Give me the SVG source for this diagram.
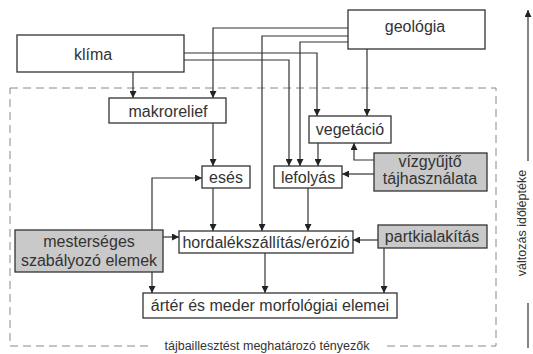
<svg xmlns="http://www.w3.org/2000/svg" width="533" height="354" viewBox="0 0 533 354">
<defs>
<style>
.box{fill:#fff;stroke:#333;stroke-width:1.3}
.gray{fill:#c9c9c9;stroke:#333;stroke-width:1.3}
.t{font-family:"Liberation Sans",Arial,sans-serif;font-size:16px;fill:#333;text-anchor:middle}
.c{fill:none;stroke:#333;stroke-width:1.2}
.ca{fill:none;stroke:#333;stroke-width:1.2;marker-end:url(#ah)}
</style>
<marker id="ah" viewBox="0 0 10 10" refX="10" refY="5" markerWidth="7" markerHeight="7" markerUnits="userSpaceOnUse" orient="auto">
<path d="M0,0 L10,5 L0,10 Z" fill="#222"/>
</marker>
</defs>
<rect width="533" height="354" fill="#fff"/>
<g id="frame">
<rect x="10" y="88" width="486" height="258" fill="none" stroke="#888" stroke-width="1" stroke-dasharray="8,5"/>
<rect x="148" y="338" width="238" height="16" fill="#fff"/>
<text x="267" y="350" font-family="Liberation Sans,Arial,sans-serif" font-size="12.5" fill="#333" text-anchor="middle">tájbaillesztést meghatározó tényezők</text>
</g>
<g id="connectors">
<path class="ca" d="M133,72 V98"/>
<path class="ca" d="M348,28 H213 V98"/>
<path class="ca" d="M348,36 H262 V231"/>
<path class="ca" d="M348,42 H300 V166"/>
<path class="ca" d="M367,49 V116"/>
<path class="ca" d="M184,53 H317 V116"/>
<path class="ca" d="M184,60 H289 V166"/>
<path class="ca" d="M318,143 V166"/>
<path class="ca" d="M374,160 H354 V143"/>
<path class="ca" d="M374,174 H342"/>
<path class="ca" d="M213,123 V166"/>
<path class="ca" d="M152,230 V178 H202"/>
<path class="ca" d="M213,188 V231"/>
<path class="ca" d="M308,188 V231"/>
<path class="ca" d="M163,237 H179"/>
<path class="ca" d="M378,240 H353"/>
<path class="ca" d="M152,272 V293"/>
<path class="ca" d="M265,253 V293"/>
<path class="ca" d="M384,248 V293"/>
</g>
<g id="klima"><rect class="box" x="17" y="35" width="167" height="37"/><text class="t" x="93" y="60">klíma</text></g>
<g id="geologia"><rect class="box" x="348" y="10" width="137" height="39"/><text class="t" x="415" y="32">geológia</text></g>
<g id="makrorelief"><rect class="box" x="109" y="98" width="117" height="25"/><text class="t" x="168" y="117">makrorelief</text></g>
<g id="vegetacio"><rect class="box" x="309" y="116" width="82" height="27"/><text class="t" x="350" y="135">vegetáció</text></g>
<g id="vizgyujto"><rect class="gray" x="374" y="153" width="113" height="38"/><text class="t" x="430" y="167">vízgyűjtő</text><text class="t" x="430" y="184">tájhasználata</text></g>
<g id="eses"><rect class="box" x="202" y="166" width="48" height="22"/><text class="t" x="226" y="183">esés</text></g>
<g id="lefolyas"><rect class="box" x="274" y="166" width="68" height="22"/><text class="t" x="308" y="183">lefolyás</text></g>
<g id="mesterseges"><rect class="gray" x="15" y="230" width="148" height="42"/><text class="t" x="89" y="247">mesterséges</text><text class="t" x="89" y="266">szabályozó elemek</text></g>
<g id="hordalek"><rect class="box" x="179" y="231" width="174" height="22"/><text class="t" x="266" y="248">hordalékszállítás/erózió</text></g>
<g id="partkialakitas"><rect class="gray" x="378" y="225" width="109" height="23"/><text class="t" x="432" y="242">partkialakítás</text></g>
<g id="arter"><rect class="box" x="143" y="293" width="254" height="25"/><text class="t" x="270" y="311">ártér és meder morfológiai elemei</text></g>
<g id="axis">
<path class="ca" d="M528,161 V10"/>
<path class="c" d="M528,303 V348"/>
<text x="522" y="223" transform="rotate(-90 522 223)" font-family="Liberation Sans,Arial,sans-serif" font-size="12.5" fill="#333" text-anchor="middle" dominant-baseline="central">változás időléptéke</text>
</g>
</svg>
